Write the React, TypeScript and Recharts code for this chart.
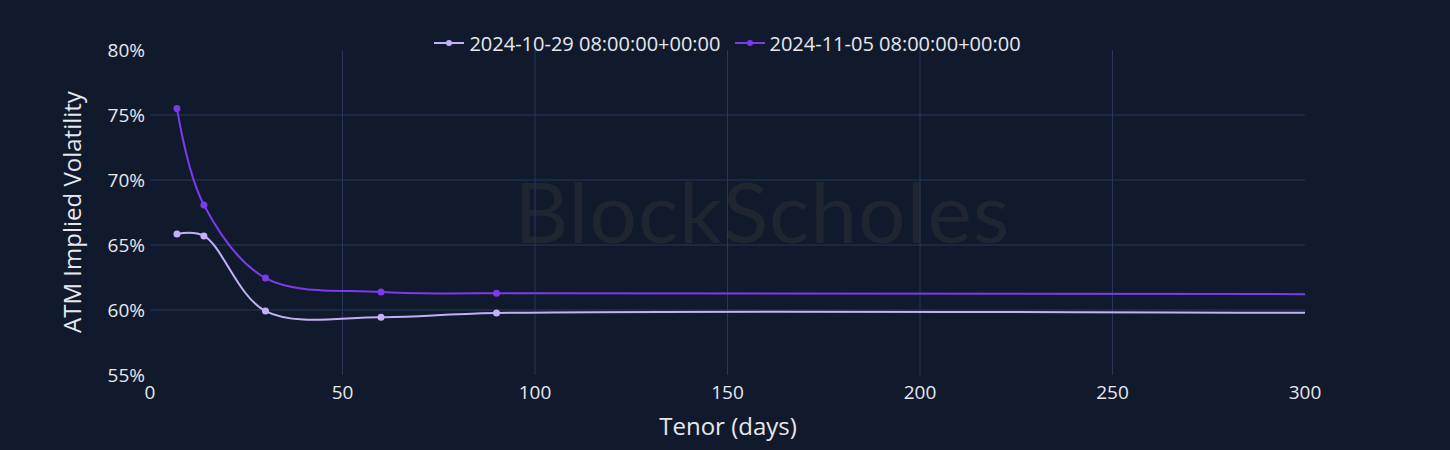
import {
    LineChart,
    Line,
    XAxis,
    YAxis,
    CartesianGrid,
    Legend,
} from "recharts";

const tenors = [7, 14, 30, 60, 90, 365];
const oct29 = [65.85, 65.7, 59.92, 59.45, 59.77, 59.7];
const nov05 = [75.5, 68.08, 62.46, 61.38, 61.28, 61.2];

const xTicks = [0, 50, 100, 150, 200, 250, 300];
const yTicks = [55, 60, 65, 70, 75, 80];

const seriesNames = ["2024-10-29 08:00:00+00:00", "2024-11-05 08:00:00+00:00"];
const seriesColors = ["#c4b0f7", "#7c3aed"];

const data = tenors.map((t, i) => ({
    tenor: t,
    oct29: oct29[i],
    nov05: nov05[i],
}));

const FONT = "'Open Sans', 'Noto Sans', sans-serif";
const BG = "#111a2d";
const GRID = "#26375a";
const TEXT = "#e6e8ee";

// catmull-rom style spline like plotly's "spline" line shape
const makeTangent = (p: number[], t: number[], n: number[]) => {
    const d1x = p[0] - t[0];
    const d1y = p[1] - t[1];
    const d2x = n[0] - t[0];
    const d2y = n[1] - t[1];
    const d1a = Math.pow(d1x * d1x + d1y * d1y, 0.25);
    const d2a = Math.pow(d2x * d2x + d2y * d2y, 0.25);
    const numx = d2a * d2a * d1x - d1a * d1a * d2x;
    const numy = d2a * d2a * d1y - d1a * d1a * d2y;
    const den1 = 3 * d2a * (d1a + d2a);
    const den2 = 3 * d1a * (d1a + d2a);
    return [
        [t[0] + (den1 && numx / den1), t[1] + (den1 && numy / den1)],
        [t[0] - (den2 && numx / den2), t[1] - (den2 && numy / den2)],
    ];
};

const splineCurve = (ctx: any) => {
    let pts: number[][] = [];
    return {
        areaStart() {},
        areaEnd() {},
        lineStart() {
            pts = [];
        },
        point(x: number, y: number) {
            pts.push([+x, +y]);
        },
        lineEnd() {
            if (!pts.length) return;
            ctx.moveTo(pts[0][0], pts[0][1]);
            if (pts.length < 3) {
                pts.slice(1).forEach((q) => ctx.lineTo(q[0], q[1]));
                return;
            }
            const tg: number[][][] = [];
            for (let i = 1; i < pts.length - 1; i++) {
                tg.push(makeTangent(pts[i - 1], pts[i], pts[i + 1]));
            }
            ctx.quadraticCurveTo(tg[0][0][0], tg[0][0][1], pts[1][0], pts[1][1]);
            for (let i = 2; i < pts.length - 1; i++) {
                const a = tg[i - 2][1];
                const b = tg[i - 1][0];
                ctx.bezierCurveTo(a[0], a[1], b[0], b[1], pts[i][0], pts[i][1]);
            }
            const last = tg[pts.length - 3][1];
            const end = pts[pts.length - 1];
            ctx.quadraticCurveTo(last[0], last[1], end[0], end[1]);
        },
    };
};

const makeDot = (color: string) => (props: any) => {
    const { cx, cy, payload, index } = props;
    if (payload.tenor > 300) return <g key={`d-${index}`} />;
    return <circle key={`d-${index}`} cx={cx} cy={cy} r={3.5} fill={color} />;
};

const renderLegend = () => (
    <div
        style={{
            display: "flex",
            justifyContent: "center",
            alignItems: "center",
            gap: 14,
            fontFamily: FONT,
            fontSize: 20,
            color: TEXT,
            height: 18,
        }}
    >
        {seriesNames.map((name, i) => (
            <div key={name} style={{ display: "flex", alignItems: "center", gap: 5 }}>
                <svg width={30} height={10}>
                    <line x1={0} y1={5} x2={30} y2={5} stroke={seriesColors[i]} strokeWidth={2} />
                    <circle cx={15} cy={5} r={3} fill={seriesColors[i]} />
                </svg>
                <span>{name}</span>
            </div>
        ))}
    </div>
);

export default function App() {
    return (
        <div
            style={{
                position: "fixed",
                top: 0,
                left: 0,
                width: 1450,
                height: 450,
                background: BG,
            }}
        >
            <div
                style={{
                    position: "absolute",
                    left: 514,
                    top: 163,
                    fontFamily: "Lato, 'DejaVu Sans', sans-serif",
                    fontSize: 84,
                    color: "#1f2531",
                    letterSpacing: 1,
                    lineHeight: "96px",
                }}
            >
                BlockScholes
            </div>
            <LineChart
                width={1450}
                height={450}
                data={data}
                margin={{ top: 32, right: 145, left: 60, bottom: 0 }}
                style={{ position: "absolute", top: 0, left: 0 }}
            >
                <CartesianGrid
                    stroke={GRID}
                    horizontalValues={[60, 65, 70, 75]}
                    verticalValues={[50, 100, 150, 200, 250]}
                />
                <XAxis
                    dataKey="tenor"
                    type="number"
                    domain={[0, 300]}
                    allowDataOverflow
                    ticks={xTicks}
                    axisLine={false}
                    tickLine={false}
                    tickSize={6}
                    tickMargin={5}
                    height={75}
                    tick={{ fill: TEXT, fontSize: 19, fontFamily: FONT }}
                    label={{
                        content: () => (
                            <text
                                x={728}
                                y={425}
                                textAnchor="middle"
                                dominantBaseline="central"
                                fill={TEXT}
                                fontSize={24}
                                fontFamily={FONT}
                            >
                                Tenor (days)
                            </text>
                        ),
                    }}
                />
                <YAxis
                    type="number"
                    domain={[55, 80]}
                    ticks={yTicks}
                    width={90}
                    axisLine={false}
                    tickLine={false}
                    tickSize={5}
                    tickMargin={0}
                    tickFormatter={(v: number) => `${v}%`}
                    tick={{ fill: TEXT, fontSize: 19, fontFamily: FONT }}
                    label={{
                        content: () => (
                            <text
                                x={71}
                                y={212}
                                transform="rotate(-90 71 212)"
                                textAnchor="middle"
                                dominantBaseline="central"
                                fill={TEXT}
                                fontSize={24}
                                fontFamily={FONT}
                            >
                                ATM Implied Volatility
                            </text>
                        ),
                    }}
                />
                <Legend
                    verticalAlign="top"
                    content={renderLegend}
                    height={18}
                    wrapperStyle={{ top: 34, left: 150, width: 1155 }}
                />
                <Line
                    dataKey="oct29"
                    name={seriesNames[0]}
                    type={splineCurve as any}
                    stroke={seriesColors[0]}
                    strokeWidth={2}
                    dot={makeDot(seriesColors[0])}
                    activeDot={false}
                    isAnimationActive={false}
                />
                <Line
                    dataKey="nov05"
                    name={seriesNames[1]}
                    type={splineCurve as any}
                    stroke={seriesColors[1]}
                    strokeWidth={2}
                    dot={makeDot(seriesColors[1])}
                    activeDot={false}
                    isAnimationActive={false}
                />
            </LineChart>
        </div>
    );
}
